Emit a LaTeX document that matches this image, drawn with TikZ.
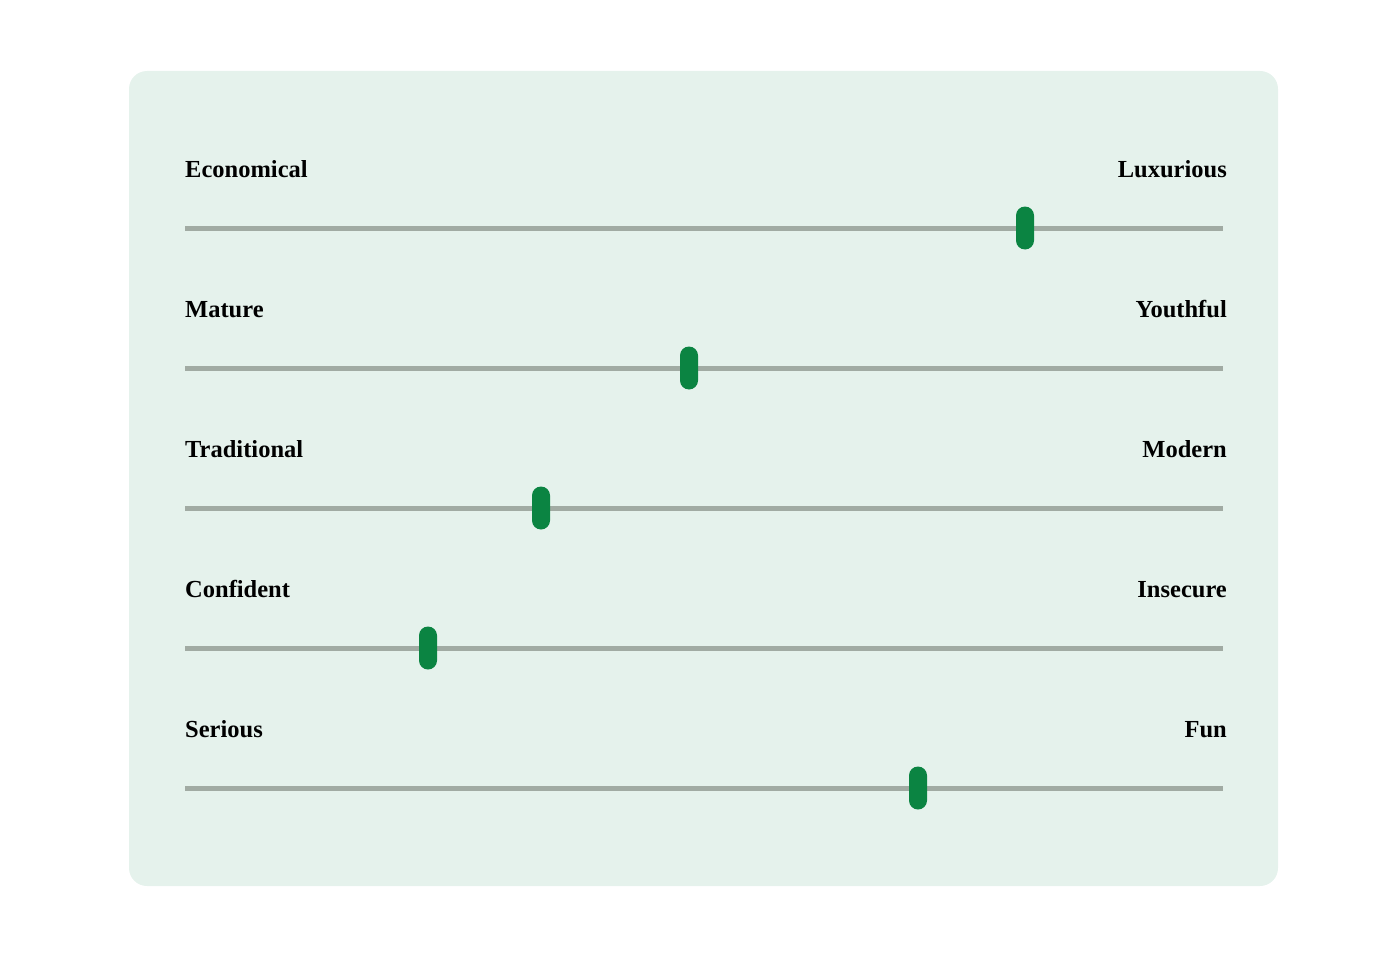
\documentclass[tikz,border=0pt]{standalone}
\usepackage{fontspec}
\setmainfont{Liberation Serif}
\definecolor{cardbg}{HTML}{E5F2EC}
\definecolor{trackc}{HTML}{A1ABA3}
\definecolor{handlec}{HTML}{0B8442}
\begin{document}
\begin{tikzpicture}[x=1pt,y=-1pt,
  lbl/.style={inner sep=0pt,font=\fontsize{24.5}{28}\selectfont\bfseries,text=black},
  track/.style={draw=trackc,line width=5pt},
  handle/.style={fill=handlec,draw=none,minimum width=18pt,minimum height=43pt,rounded corners=9pt,inner sep=0pt}]
\useasboundingbox (0,0) rectangle (1400,963);
\fill[cardbg,rounded corners=18pt] (129,71) rectangle (1278,886);
\foreach \i/\l/\r/\h in {0/Economical/Luxurious/1025,1/Mature/Youthful/689,2/Traditional/Modern/541,3/Confident/Insecure/428,4/Serious/Fun/918}{
  \pgfmathsetmacro{\ty}{228+140*\i}
  \pgfmathsetmacro{\by}{177+140*\i}
  \node[lbl,anchor=base west] (L\i) at (185,\by) {\l};
  \node[lbl,anchor=base east] (R\i) at (1227,\by) {\r};
  \coordinate (A\i) at (185,\ty);
  \coordinate (B\i) at (1223,\ty);
  \draw[track] (A\i) -- (B\i);
  \node[handle] (H\i) at (\h,\ty) {};
}
\end{tikzpicture}
\end{document}
